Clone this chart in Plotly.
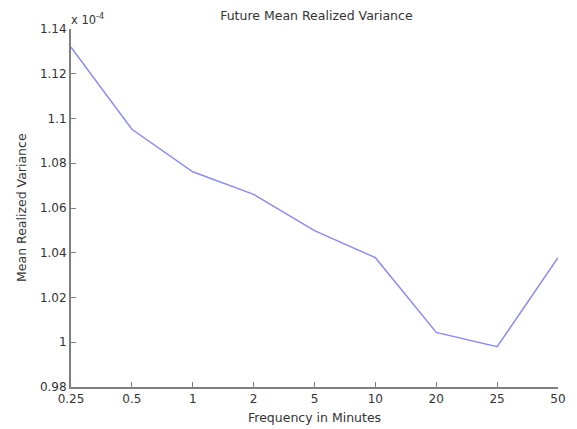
import plotly.graph_objects as go

categories = ["0.25", "0.5", "1", "2", "5", "10", "20", "25", "50"]
mean_rv_e4 = [1.1319, 1.0952, 1.0762, 1.0661, 1.0499, 1.0378, 1.0044, 0.9980, 1.0378]
y_tickvals = [0.98, 1.0, 1.02, 1.04, 1.06, 1.08, 1.10, 1.12, 1.14]
y_ticktext = ["0.98", "1", "1.02", "1.04", "1.06", "1.08", "1.1", "1.12", "1.14"]

font = "DejaVu Sans, Liberation Sans, Arial, sans-serif"
axis_color = "#7f7f7f"
text_color = "#333333"

# page body has an 8px default margin, so the figure is 8px smaller than the window
fig = go.Figure()
fig.add_trace(go.Scatter(
    x=categories, y=mean_rv_e4, mode="lines",
    line=dict(color="#8c8cf0", width=1.5),
    showlegend=False, hoverinfo="skip",
))

fig.update_layout(
    width=569, height=421,
    margin=dict(l=63, r=19, t=21, b=42),
    paper_bgcolor="white", plot_bgcolor="white",
    font=dict(family=font, size=12, color=text_color),
    title=dict(text="Future Mean Realized Variance", x=0.542, xanchor="center",
               y=0.993, yanchor="top", font=dict(size=12.5, color=text_color)),
    xaxis=dict(
        type="category", range=[0, 8],
        tickvals=categories, ticktext=categories,
        showgrid=False, zeroline=False, automargin=False,
        showline=True, linecolor=axis_color, linewidth=2,
        ticks="inside", ticklen=5, tickcolor=axis_color, tickwidth=1,
        tickfont=dict(size=12, color=text_color), ticklabelstandoff=0,
    ),
    yaxis=dict(
        range=[0.98, 1.14],
        tickvals=y_tickvals, ticktext=y_ticktext,
        showgrid=False, zeroline=False, automargin=False,
        showline=True, linecolor=axis_color, linewidth=2,
        ticks="inside", ticklen=5, tickcolor=axis_color, tickwidth=1,
        tickfont=dict(size=12, color=text_color),
    ),
    annotations=[
        dict(text="x 10<sup>-4</sup>", xref="paper", yref="paper", x=0.0, y=1.0,
             xanchor="left", yanchor="bottom", showarrow=False,
             font=dict(size=11.5, color=text_color), xshift=-2),
        dict(text="Frequency in Minutes", xref="paper", yref="paper", x=0.5, y=0,
             xanchor="center", yanchor="middle", showarrow=False, yshift=-30,
             font=dict(size=12.5, color=text_color)),
        dict(text="Mean Realized Variance", xref="paper", yref="paper", x=0, y=0.5,
             xanchor="center", yanchor="middle", showarrow=False, textangle=-90,
             xshift=-50, font=dict(size=12.5, color=text_color)),
    ],
)

fig.write_html("out.html")
